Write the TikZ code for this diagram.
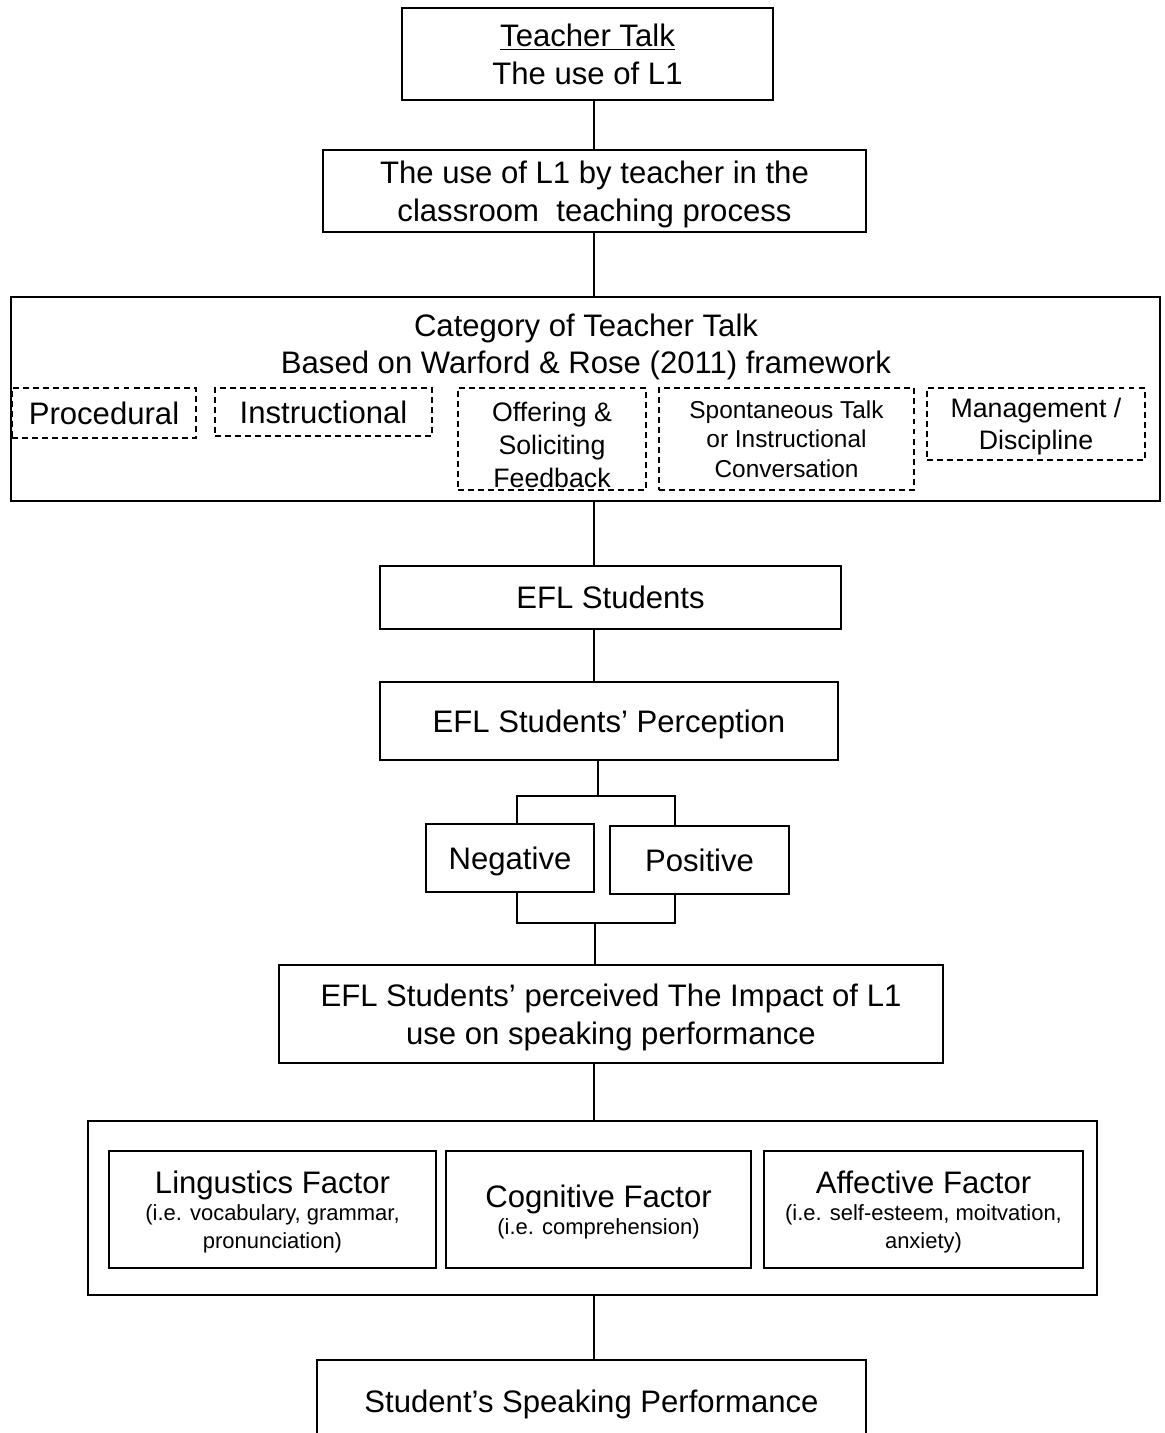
\documentclass[tikz,border=0pt]{standalone}
\usepackage{fontspec}
\setmainfont{Liberation Sans}
\newcommand{\bigtxt}{\fontsize{17.7}{21.5}\selectfont}
\newcommand{\smtxt}{\fontsize{12.5}{15.3}\selectfont}
\tikzset{box/.style={draw,line width=1.1pt,inner sep=0pt,align=center,text depth=0pt,font=\bigtxt},
         cbox/.style={draw,line width=1pt,dash pattern=on 3.4pt off 2.3pt,inner sep=0pt,align=center,text depth=0pt},
         link/.style={line width=1.1pt}}

\begin{document}
\begin{tikzpicture}[x=0.02cm,y=-0.02cm]
  \useasboundingbox (0,0) rectangle (1164,1433);
  \coordinate (spine) at (594,0);
  \node[box,minimum width=7.42cm,minimum height=1.84cm] (talk) at (587.5,54)
    {\underline{Teacher Talk}\\The use of L1};
  \node[box,minimum width=10.86cm,minimum height=1.64cm] (use) at (594.5,191)
    {The use of L1 by teacher in the\\classroom\ \ teaching process};
  % category box with the five kinds of talk
  \node[box,minimum width=22.98cm,minimum height=4.08cm] (cat) at (585.5,399) {};
  \node[align=center,text depth=0pt,font=\fontsize{17.7}{21}\selectfont] (cattitle) at (586,344)
    {Category of Teacher Talk\\Based on Warford \& Rose (2011) framework};
  \node[cbox,font=\bigtxt,minimum width=3.68cm,minimum height=1cm] (proc) at (104,413) {Procedural};
  \node[cbox,font=\bigtxt,minimum width=4.34cm,minimum height=.96cm] (instr) at (323.5,412) {Instructional};
  \node[cbox,font=\fontsize{15.2}{18.7}\selectfont,minimum width=3.76cm,minimum height=2.04cm]
    (offer) at (552,439) {\rule{0pt}{18pt}Offering \&\\Soliciting\\Feedback};
  \node[cbox,font=\fontsize{13.9}{16.7}\selectfont,minimum width=5.1cm,minimum height=2.04cm]
    (spont) at (786.5,439) {Spontaneous Talk\\or Instructional\\Conversation};
  \node[cbox,font=\fontsize{15.2}{18.1}\selectfont,minimum width=4.36cm,minimum height=1.44cm]
    (manage) at (1036,424) {Management /\\Discipline};
  \node[box,minimum width=9.22cm,minimum height=1.26cm] (efl) at (610.5,597.5) {EFL Students};
  \node[box,minimum width=9.16cm,minimum height=1.56cm] (percep) at (609,721) {EFL Students’ Perception};
  \node[box,minimum width=3.36cm,minimum height=1.36cm] (neg) at (510,858) {Negative};
  \node[box,minimum width=3.58cm,minimum height=1.36cm] (pos) at (699.5,860) {Positive};
  \node[box,minimum width=13.28cm,minimum height=1.96cm] (impact) at (611,1014)
    {EFL Students’ perceived The Impact of L1\\use on speaking performance};
  % factors
  \node[box,minimum width=20.18cm,minimum height=3.48cm] (factors) at (592.5,1208) {};
  \node[box,minimum width=6.54cm,minimum height=2.34cm] (ling) at (272.5,1209.5)
    {Lingustics Factor\\[-6pt]{\smtxt (i.e. vocabulary, grammar,}\\[-6pt]{\smtxt pronunciation)}};
  \node[box,minimum width=6.1cm,minimum height=2.34cm] (cogn) at (598.5,1209.5)
    {Cognitive Factor\\[-6pt]{\smtxt (i.e. comprehension)}};
  \node[box,minimum width=6.38cm,minimum height=2.34cm] (affect) at (923.5,1209.5)
    {Affective Factor\\[-6pt]{\smtxt (i.e. self-esteem, moitvation,}\\[-6pt]{\smtxt anxiety)}};
  \node[box,minimum width=10.98cm,minimum height=1.64cm] (speak) at (591.5,1401)
    {Student’s Speaking Performance};
  % connectors
  \draw[link] (talk.south -| spine) -- (use.north -| spine);
  \draw[link] (use.south -| spine) -- (cat.north -| spine);
  \draw[link] (cat.south -| spine) -- (efl.north -| spine);
  \draw[link] (efl.south -| spine) -- (percep.north -| spine);
  \coordinate (ftop) at (598,796); \coordinate (ntop) at (517,796); \coordinate (ptop) at (675,796);
  \draw[link] (percep.south -| ftop) -- (ftop);
  \draw[link] (ntop |- neg.north) -- (ntop) -- (ptop) -- (ptop |- pos.north);
  \coordinate (fbot) at (595,923); \coordinate (nbot) at (517,923); \coordinate (pbot) at (675,923);
  \draw[link] (nbot |- neg.south) -- (nbot) -- (pbot) -- (pbot |- pos.south);
  \draw[link] (fbot) -- (impact.north -| fbot);
  \draw[link] (impact.south -| spine) -- (factors.north -| spine);
  \draw[link] (factors.south -| spine) -- (speak.north -| spine);
\end{tikzpicture}
\end{document}
